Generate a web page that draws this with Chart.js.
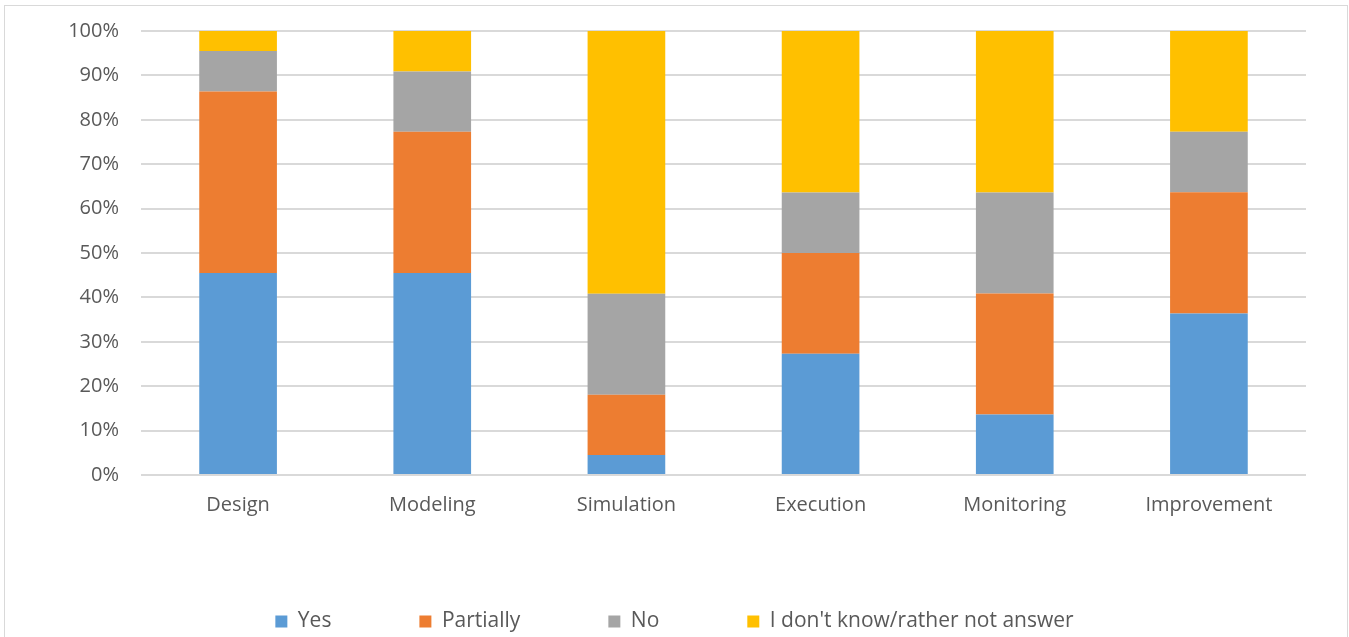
<!DOCTYPE html>
<html>
<head>
<meta charset="utf-8">
<script src="https://cdn.jsdelivr.net/npm/chart.js@4/dist/chart.umd.min.js"></script>
<style>
  html, body { margin: 0; padding: 0; background: #fff; overflow: hidden; }
  #wrap { position: absolute; left: 0; top: 0; width: 1349px; height: 637px; }
</style>
</head>
<body>
<div id="wrap"><canvas id="chart"></canvas></div>
<script>
// stages of the process, share of answers in percent
const categories = ['Design', 'Modeling', 'Simulation', 'Execution', 'Monitoring', 'Improvement']
const yes       = [45.5, 45.5, 4.5, 27.3, 13.6, 36.4]
const partially = [40.9, 31.8, 13.6, 22.7, 27.3, 27.3]
const no        = [9.1, 13.6, 22.7, 13.6, 22.7, 13.6]
const dontKnow  = [4.5, 9.1, 59.2, 36.4, 36.4, 22.7]
const yTicks = [0, 10, 20, 30, 40, 50, 60, 70, 80, 90, 100]

const textColor = '#595959'
const gridColor = '#d9d9d9'
const font = {family: '"Open Sans", sans-serif', size: 20}

// light frame round the chart, like the Excel chart border
const frame = {
  id: 'frame',
  beforeDraw(chart) {
    const ctx = chart.ctx
    ctx.save()
    ctx.strokeStyle = '#d9d9d9'
    ctx.lineWidth = 1
    ctx.strokeRect(4.5, 5.5, 1343, 700)
    ctx.restore()
  }
}

function series(label, data, color) {
  return {label, data, backgroundColor: color, borderWidth: 0,
          categoryPercentage: 1, barPercentage: 0.4}
}

new Chart(document.getElementById('chart'), {
  type: 'bar',
  data: {
    labels: categories,
    datasets: [
      series('Yes', yes, '#5b9bd5'),
      series('Partially', partially, '#ed7d31'),
      series('No', no, '#a5a5a5'),
      series("I don't know/rather not answer", dontKnow, '#ffc000')
    ]
  },
  options: {
    responsive: true,
    maintainAspectRatio: false,
    animation: false,
    layout: {padding: {top: 31, right: 43, bottom: -5, left: 43}},
    plugins: {
      tooltip: {enabled: false},
      legend: {
        position: 'bottom',
        labels: {color: textColor, font: {...font, size: 21}, boxWidth: 12, boxHeight: 12, padding: 88}
      }
    },
    scales: {
      x: {
        stacked: true,
        grid: {display: false},
        border: {display: false},
        ticks: {color: textColor, font, padding: 10},
        afterFit(scale) { scale.height = 48 }
      },
      y: {
        stacked: true,
        min: 0,
        max: 100,
        afterBuildTicks(scale) { scale.ticks = yTicks.map(v => ({value: v})) },
        // invisible tick marks keep the labels away from the plot
        grid: {color: gridColor, lineWidth: 2, drawTicks: true, tickLength: 22, tickColor: 'rgba(0,0,0,0)'},
        border: {display: false},
        ticks: {color: textColor, font, padding: 0, callback: v => v + '%'},
        afterFit(scale) { scale.width = 98 }
      }
    }
  },
  plugins: [frame]
})
</script>
</body>
</html>
